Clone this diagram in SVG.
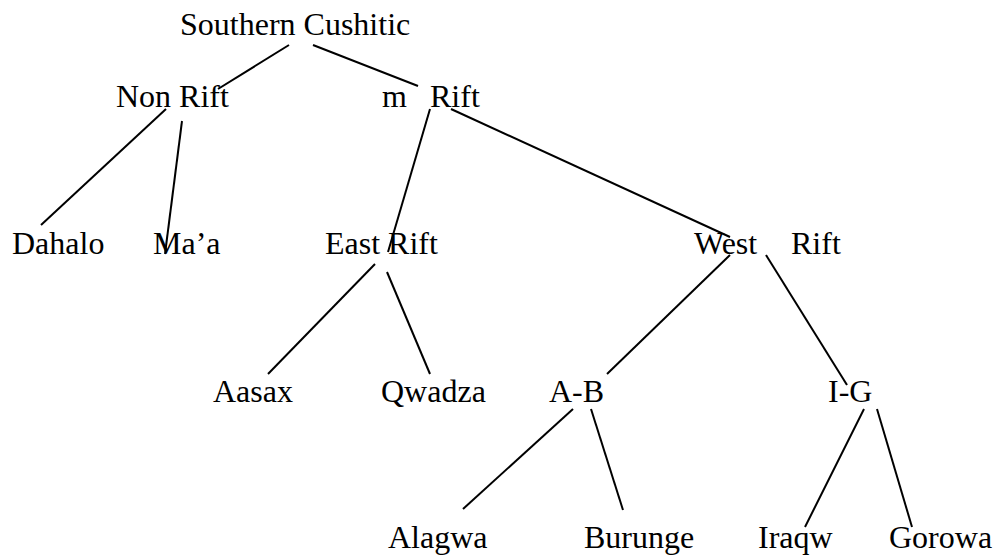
<svg xmlns="http://www.w3.org/2000/svg" width="996" height="557" viewBox="0 0 996 557">
  <style>
    .lbl { font-family: "Liberation Serif", "Times New Roman", serif; font-size: 32px; fill: #000; }
    .edge { stroke: #000; stroke-width: 2; fill: none; stroke-linecap: butt; }
  </style>
  <rect width="996" height="557" fill="#fff"/>

  <!-- tree branches -->
  <g id="connectors">
    <line class="edge" x1="289" y1="45" x2="218" y2="89"/>
    <line class="edge" x1="313" y1="45" x2="418" y2="86"/>
    <line class="edge" x1="166" y1="109" x2="41" y2="225"/>
    <line class="edge" x1="182" y1="121" x2="165" y2="254"/>
    <line class="edge" x1="430" y1="109" x2="388" y2="252"/>
    <line class="edge" x1="451" y1="109" x2="730" y2="237"/>
    <line class="edge" x1="375" y1="264" x2="268" y2="374"/>
    <line class="edge" x1="387" y1="272" x2="430" y2="374"/>
    <line class="edge" x1="730" y1="255" x2="607" y2="374"/>
    <line class="edge" x1="766" y1="255" x2="847" y2="385"/>
    <line class="edge" x1="573" y1="409" x2="463" y2="509"/>
    <line class="edge" x1="591" y1="409" x2="623" y2="510"/>
    <line class="edge" x1="864" y1="409" x2="805" y2="527"/>
    <line class="edge" x1="877" y1="409" x2="912" y2="527"/>
  </g>

  <g id="southern-cushitic"><text class="lbl" x="180" y="35">Southern Cushitic</text></g>
  <g id="non-rift"><text class="lbl" x="116" y="107">Non Rift</text></g>
  <g id="rift"><text class="lbl" y="107"><tspan x="382">m</tspan><tspan x="430">Rift</tspan></text></g>
  <g id="dahalo"><text class="lbl" x="12" y="254">Dahalo</text></g>
  <g id="maa"><text class="lbl" x="153" y="254">Ma’a</text></g>
  <g id="east-rift"><text class="lbl" x="325" y="254">East Rift</text></g>
  <g id="west-rift"><text class="lbl" y="254"><tspan x="694">West</tspan><tspan x="791">Rift</tspan></text></g>
  <g id="aasax"><text class="lbl" x="213" y="402">Aasax</text></g>
  <g id="qwadza"><text class="lbl" x="381" y="402">Qwadza</text></g>
  <g id="a-b"><text class="lbl" x="549" y="402">A-B</text></g>
  <g id="i-g"><text class="lbl" x="828" y="402">I-G</text></g>
  <g id="alagwa"><text class="lbl" x="388" y="548">Alagwa</text></g>
  <g id="burunge"><text class="lbl" x="584" y="548">Burunge</text></g>
  <g id="iraqw"><text class="lbl" x="758" y="548">Iraqw</text></g>
  <g id="gorowa"><text class="lbl" x="889" y="548">Gorowa</text></g>
</svg>
